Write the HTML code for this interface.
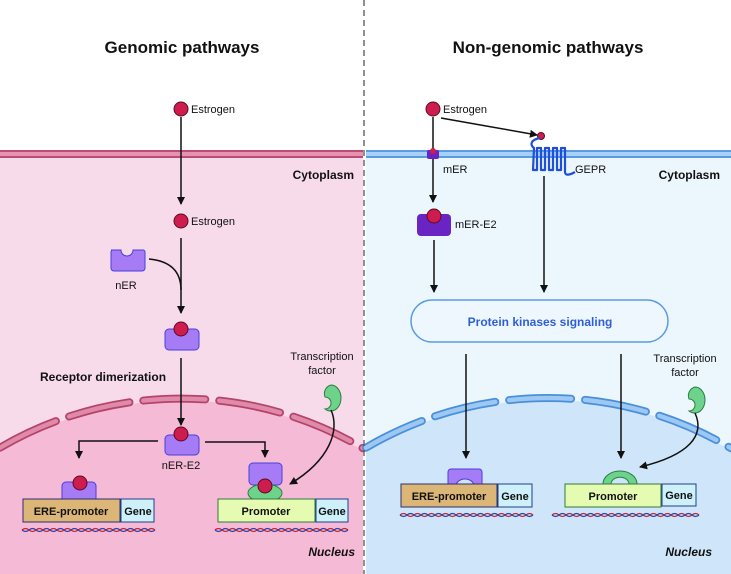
<!DOCTYPE html>
<html><head><meta charset="utf-8"><style>
html,body{margin:0;padding:0;background:#fff;width:731px;height:574px;overflow:hidden}
svg{display:block}
text{font-family:"Liberation Sans","DejaVu Sans",sans-serif;fill:#111}
.b{font-weight:bold}
</style></head><body>
<svg width="731" height="574" viewBox="0 0 731 574" xmlns="http://www.w3.org/2000/svg">
<defs>
<marker id="ah" markerWidth="8" markerHeight="8" refX="7" refY="4" orient="auto" markerUnits="userSpaceOnUse">
<path d="M0,0 L8,4 L0,8 Z" fill="#111"/></marker>
</defs>
<rect x="0" y="155" width="363" height="419" fill="#f7dbeb"/>
<rect x="366" y="155" width="365" height="419" fill="#ebf6fd"/>
<path d="M0,574 L0,450 A356,356 0 0 1 363,450.6 L363,574 Z" fill="#f5bad6"/>
<g fill="none" stroke-dasharray="62 14" stroke-linecap="round">
<path d="M0,447.7 A358,358 0 0 1 363,448.3" stroke="#b5436a" stroke-width="8"/>
<path d="M0,447.7 A358,358 0 0 1 363,448.3" stroke="#e08aaa" stroke-width="4.5"/>
</g>
<path d="M366,574 L366,450 A356,356 0 0 1 731,450.6 L731,574 Z" fill="#cfe5f9"/>
<g fill="none" stroke-dasharray="62 14" stroke-linecap="round">
<path d="M366,447.7 A358,358 0 0 1 731,448.3" stroke="#4a8fdc" stroke-width="8"/>
<path d="M366,447.7 A358,358 0 0 1 731,448.3" stroke="#9cc8f2" stroke-width="4.5"/>
</g>
<rect x="0" y="150" width="363" height="8" fill="#e392b2"/>
<line x1="0" y1="151" x2="363" y2="151" stroke="#c04a73" stroke-width="2"/>
<line x1="0" y1="157" x2="363" y2="157" stroke="#c04a73" stroke-width="2"/>
<rect x="366" y="150" width="365" height="8" fill="#a9d1f7"/>
<line x1="366" y1="151" x2="731" y2="151" stroke="#5a9be3" stroke-width="2"/>
<line x1="366" y1="157" x2="731" y2="157" stroke="#5a9be3" stroke-width="2"/>
<line x1="364" y1="0" x2="364" y2="574" stroke="#555" stroke-width="1.3" stroke-dasharray="6 4"/>
<text x="182" y="53" font-size="17" class="b" text-anchor="middle">Genomic pathways</text>
<text x="548" y="53" font-size="17" class="b" text-anchor="middle">Non-genomic pathways</text>

<circle cx="181" cy="109" r="7" fill="#cf1c4e" stroke="#5a0c22"/>
<text x="191" y="113" font-size="11">Estrogen</text>
<line x1="181" y1="117" x2="181" y2="204" stroke="#111" stroke-width="1.5" marker-end="url(#ah)"/>
<text x="354" y="179" font-size="12" class="b" text-anchor="end">Cytoplasm</text>
<circle cx="181" cy="221" r="7" fill="#cf1c4e" stroke="#5a0c22"/>
<text x="191" y="225" font-size="11">Estrogen</text>
<line x1="181" y1="238" x2="181" y2="313" stroke="#111" stroke-width="1.5" marker-end="url(#ah)"/>
<path d="M149,259 Q181,262 181,290" fill="none" stroke="#111" stroke-width="1.5"/>
<path d="M111,250 h10 a6,6 0 0 0 12,0 h10 a2,2 0 0 1 2,2 v16 a3,3 0 0 1 -3,3 h-28 a3,3 0 0 1 -3,-3 v-16 a2,2 0 0 1 2,-2 z" fill="#a57cf5" stroke="#4a3ed8"/>
<text x="126" y="289" font-size="11" text-anchor="middle">nER</text>
<rect x="165" y="329" width="34" height="21" rx="4" fill="#a57cf5" stroke="#4a3ed8"/>
<circle cx="181" cy="329" r="7" fill="#cf1c4e" stroke="#5a0c22"/>
<line x1="181" y1="358" x2="181" y2="425" stroke="#111" stroke-width="1.5" marker-end="url(#ah)"/>
<text x="40" y="381" font-size="12" class="b">Receptor dimerization</text>
<text x="322" y="360" font-size="11" text-anchor="middle">Transcription</text>
<text x="322" y="374" font-size="11" text-anchor="middle">factor</text>
<path d="M331,385 a10,13 0 1 1 0,26 a10,13 0 0 1 -6,-2 a6,6 0 0 0 0,-12 a9,9 0 0 1 6,-12 z" fill="#6dd38a" stroke="#2c7c44"/>
<path d="M331,410 C340,430 330,460 290,484" fill="none" stroke="#111" stroke-width="1.5" marker-end="url(#ah)"/>
<rect x="165" y="435" width="34" height="20" rx="4" fill="#a57cf5" stroke="#4a3ed8"/>
<circle cx="181" cy="434" r="7" fill="#cf1c4e" stroke="#5a0c22"/>
<text x="181" y="469" font-size="11" text-anchor="middle">nER-E2</text>
<path d="M158,441 H79 V458" fill="none" stroke="#111" stroke-width="1.5" marker-end="url(#ah)"/>
<path d="M205,442 H265 V457" fill="none" stroke="#111" stroke-width="1.5" marker-end="url(#ah)"/>
<rect x="62" y="482" width="34" height="20" rx="4" fill="#a57cf5" stroke="#4a3ed8"/>
<circle cx="80" cy="483" r="7" fill="#cf1c4e" stroke="#5a0c22"/>
<rect x="23" y="499" width="97" height="23" fill="#dcb677" stroke="#2e2f6e"/>
<text x="71" y="515" font-size="11" class="b" text-anchor="middle">ERE-promoter</text>
<rect x="121" y="499" width="33" height="23" fill="#cdf0fb" stroke="#1e3f8a"/>
<text x="138" y="515" font-size="11" class="b" text-anchor="middle">Gene</text>
<rect x="249" y="463" width="33" height="22" rx="4" fill="#a57cf5" stroke="#4a3ed8"/>
<ellipse cx="265" cy="493" rx="17" ry="9" fill="#6dd38a" stroke="#2c7c44"/>
<circle cx="265" cy="486" r="7" fill="#cf1c4e" stroke="#5a0c22"/>
<rect x="218" y="499" width="97" height="23" fill="#e6fbb2" stroke="#2f7a3a"/>
<text x="266" y="515" font-size="11" class="b" text-anchor="middle">Promoter</text>
<rect x="316" y="499" width="32" height="23" fill="#cdf0fb" stroke="#1e3f8a"/>
<text x="332" y="515" font-size="11" class="b" text-anchor="middle">Gene</text>
<text x="355" y="556" font-size="12" class="b" font-style="italic" text-anchor="end">Nucleus</text>

<circle cx="433" cy="109" r="7" fill="#cf1c4e" stroke="#5a0c22"/>
<text x="443" y="113" font-size="11">Estrogen</text>
<line x1="441" y1="118" x2="537" y2="135" stroke="#111" stroke-width="1.5" marker-end="url(#ah)"/>
<circle cx="541" cy="136" r="3.5" fill="#cf1c4e" stroke="#5a0c22"/>
<path d="M540,138 C530,140 530,145 534,148 L533,170 L537,170 L537,148 L541,148 L541,170 L545,170 L545,148 L549,148 L549,170 L553,170 L553,148 L557,148 L557,170 L561,170 L561,148 L565,148 L565,172 C565,176 570,175 575,172" fill="none" stroke="#1f4fd8" stroke-width="2.2" stroke-linejoin="round"/>
<text x="575" y="173" font-size="11">GEPR</text>
<line x1="433" y1="117" x2="433" y2="202" stroke="#111" stroke-width="1.5" marker-end="url(#ah)"/>
<rect x="427" y="150" width="12" height="9" rx="2" fill="#6a24c4"/>
<circle cx="433" cy="151" r="3" fill="#cf1c4e"/>
<text x="443" y="173" font-size="11">mER</text>
<text x="720" y="179" font-size="12" class="b" text-anchor="end">Cytoplasm</text>
<rect x="417" y="214" width="34" height="22" rx="4" fill="#6a24c4"/>
<circle cx="434" cy="216" r="7" fill="#cf1c4e" stroke="#5a0c22"/>
<text x="455" y="228" font-size="11">mER-E2</text>
<line x1="434" y1="240" x2="434" y2="292" stroke="#111" stroke-width="1.5" marker-end="url(#ah)"/>
<line x1="544" y1="176" x2="544" y2="292" stroke="#111" stroke-width="1.5" marker-end="url(#ah)"/>
<rect x="411" y="300" width="257" height="42" rx="21" fill="#eef6fe" stroke="#5a9be3" stroke-width="1.5"/>
<text x="540" y="326" font-size="12" class="b" text-anchor="middle" style="fill:#2f5fd8">Protein kinases signaling</text>
<line x1="466" y1="354" x2="466" y2="458" stroke="#111" stroke-width="1.5" marker-end="url(#ah)"/>
<line x1="621" y1="354" x2="621" y2="458" stroke="#111" stroke-width="1.5" marker-end="url(#ah)"/>
<text x="685" y="362" font-size="11" text-anchor="middle">Transcription</text>
<text x="685" y="376" font-size="11" text-anchor="middle">factor</text>
<path d="M695,387 a10,13 0 1 1 0,26 a10,13 0 0 1 -6,-2 a6,6 0 0 0 0,-12 a9,9 0 0 1 6,-12 z" fill="#6dd38a" stroke="#2c7c44"/>
<path d="M695,413 C705,435 690,455 640,467" fill="none" stroke="#111" stroke-width="1.5" marker-end="url(#ah)"/>
<path d="M448,472 a3,3 0 0 1 3,-3 h28 a3,3 0 0 1 3,3 v14 h-8 a9,7 0 0 0 -18,0 h-8 z" fill="#a57cf5" stroke="#4a3ed8"/>
<rect x="401" y="484" width="96" height="23" fill="#dcb677" stroke="#2e2f6e"/>
<text x="449" y="500" font-size="11" class="b" text-anchor="middle">ERE-promoter</text>
<rect x="498" y="484" width="34" height="23" fill="#cdf0fb" stroke="#1e3f8a"/>
<text x="515" y="500" font-size="11" class="b" text-anchor="middle">Gene</text>
<path d="M603,484 a17,13 0 0 1 34,0 h-8 a8,6 0 0 0 -18,0 z" fill="#6dd38a" stroke="#2c7c44"/>
<rect x="565" y="484" width="96" height="23" fill="#e6fbb2" stroke="#2f7a3a"/>
<text x="613" y="500" font-size="11" class="b" text-anchor="middle">Promoter</text>
<rect x="662" y="484" width="34" height="22" fill="#cdf0fb" stroke="#1e3f8a"/>
<text x="679" y="499" font-size="11" class="b" text-anchor="middle">Gene</text>
<text x="712" y="556" font-size="12" class="b" font-style="italic" text-anchor="end">Nucleus</text>

<g fill="none" stroke-width="1.2">
<path d="M22,530 q3.5,-3 7,0 t7,0 t7,0 t7,0 t7,0 t7,0 t7,0 t7,0 t7,0 t7,0 t7,0 t7,0 t7,0 t7,0 t7,0 t7,0 t7,0 t7,0 t7,0" stroke="#c0282e"/>
<path d="M22,530 q3.5,3 7,0 t7,0 t7,0 t7,0 t7,0 t7,0 t7,0 t7,0 t7,0 t7,0 t7,0 t7,0 t7,0 t7,0 t7,0 t7,0 t7,0 t7,0 t7,0" stroke="#2e3fa8"/>
<path d="M215,530 q3.5,-3 7,0 t7,0 t7,0 t7,0 t7,0 t7,0 t7,0 t7,0 t7,0 t7,0 t7,0 t7,0 t7,0 t7,0 t7,0 t7,0 t7,0 t7,0 t7,0" stroke="#c0282e"/>
<path d="M215,530 q3.5,3 7,0 t7,0 t7,0 t7,0 t7,0 t7,0 t7,0 t7,0 t7,0 t7,0 t7,0 t7,0 t7,0 t7,0 t7,0 t7,0 t7,0 t7,0 t7,0" stroke="#2e3fa8"/>
<path d="M400,515 q3.5,-3 7,0 t7,0 t7,0 t7,0 t7,0 t7,0 t7,0 t7,0 t7,0 t7,0 t7,0 t7,0 t7,0 t7,0 t7,0 t7,0 t7,0 t7,0 t7,0" stroke="#c0282e"/>
<path d="M400,515 q3.5,3 7,0 t7,0 t7,0 t7,0 t7,0 t7,0 t7,0 t7,0 t7,0 t7,0 t7,0 t7,0 t7,0 t7,0 t7,0 t7,0 t7,0 t7,0 t7,0" stroke="#2e3fa8"/>
<path d="M552,515 q3.5,-3 7,0 t7,0 t7,0 t7,0 t7,0 t7,0 t7,0 t7,0 t7,0 t7,0 t7,0 t7,0 t7,0 t7,0 t7,0 t7,0 t7,0 t7,0 t7,0 t7,0 t7,0" stroke="#c0282e"/>
<path d="M552,515 q3.5,3 7,0 t7,0 t7,0 t7,0 t7,0 t7,0 t7,0 t7,0 t7,0 t7,0 t7,0 t7,0 t7,0 t7,0 t7,0 t7,0 t7,0 t7,0 t7,0 t7,0 t7,0" stroke="#2e3fa8"/>
</g>
</svg>
</body></html>
